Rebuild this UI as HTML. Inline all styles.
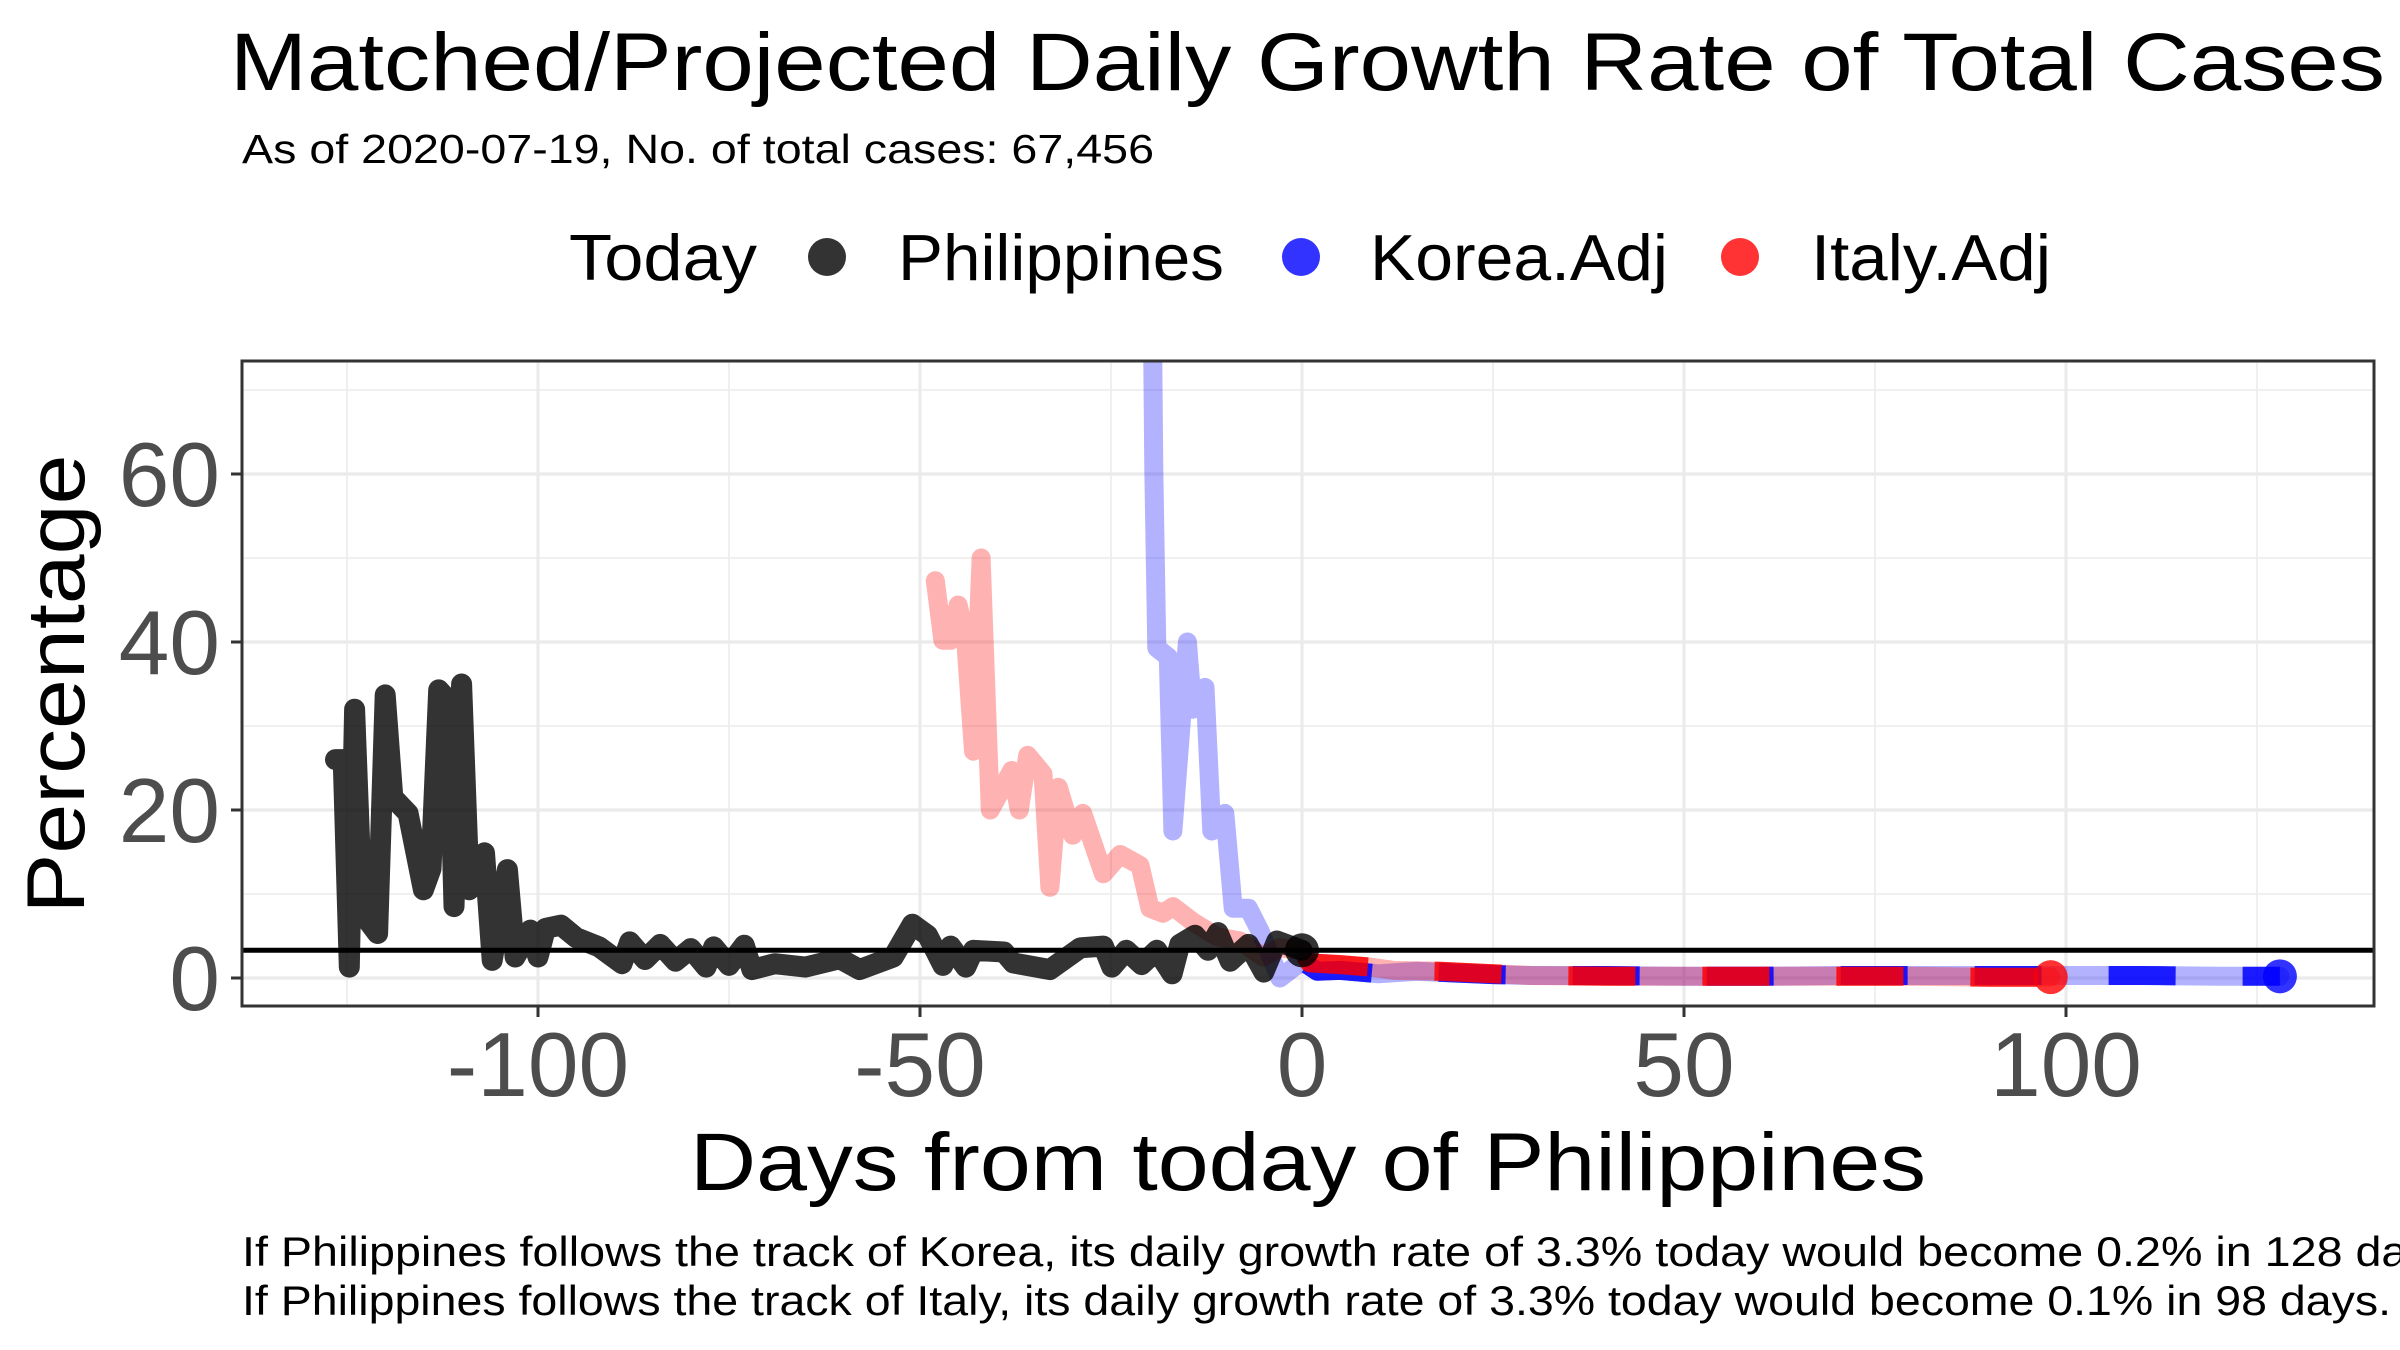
<!DOCTYPE html>
<html><head><meta charset="utf-8"><style>
html,body{margin:0;padding:0;background:#fff;overflow:hidden;}
svg{display:block;font-family:"Liberation Sans",Arial,sans-serif;}
</style></head><body>
<svg id="chart" width="2400" height="1350" viewBox="0 0 2400 1350">
<rect width="2400" height="1350" fill="#fff"/>
<text x="230" y="90" font-size="82" textLength="2155" lengthAdjust="spacingAndGlyphs" fill="#000">Matched/Projected Daily Growth Rate of Total Cases</text>
<text x="242" y="163" font-size="41" textLength="912" lengthAdjust="spacingAndGlyphs" fill="#000">As of 2020-07-19, No. of total cases: 67,456</text>
<g>
<text x="569" y="280" font-size="65" textLength="188" lengthAdjust="spacingAndGlyphs">Today</text>
<circle cx="827" cy="257" r="19" fill="#000" fill-opacity="0.8"/>
<text x="898" y="280" font-size="65" textLength="326" lengthAdjust="spacingAndGlyphs">Philippines</text>
<circle cx="1301" cy="257" r="19" fill="#0000ff" fill-opacity="0.8"/>
<text x="1370" y="280" font-size="65" textLength="298" lengthAdjust="spacingAndGlyphs">Korea.Adj</text>
<circle cx="1740" cy="257" r="19" fill="#ff0000" fill-opacity="0.8"/>
<text x="1811" y="280" font-size="65" textLength="240" lengthAdjust="spacingAndGlyphs">Italy.Adj</text>
</g>
<g id="grid"></g>
<g id="plot"></g>
<g id="axes"></g>
<text transform="translate(84,684) rotate(-90)" text-anchor="middle" font-size="82" textLength="459" lengthAdjust="spacingAndGlyphs">Percentage</text>
<text x="1308" y="1190" text-anchor="middle" font-size="82" textLength="1236" lengthAdjust="spacingAndGlyphs">Days from today of Philippines</text>
<text x="242" y="1266" font-size="42" textLength="2225" lengthAdjust="spacingAndGlyphs">If Philippines follows the track of Korea, its daily growth rate of 3.3% today would become 0.2% in 128 days.</text>
<text x="242" y="1315" font-size="42" textLength="2149" lengthAdjust="spacingAndGlyphs">If Philippines follows the track of Italy, its daily growth rate of 3.3% today would become 0.1% in 98 days.</text>
</svg>
<script>
const phDays=[-126.5,-125.5,-124.7,-124,-123,-121,-120,-119,-117,-115,-114,-113,-111.7,-111,-110,-109,-107,-106,-104,-103,-101,-100,-99,-97,-95,-92,-89,-88,-86,-84,-82,-80,-78,-77,-75,-73,-72,-69,-65,-60.5,-57.9,-53.5,-51,-49,-47,-46,-44,-43,-39,-37.8,-33,-29,-26,-24.9,-23,-21,-19,-17,-16,-14,-12.3,-11,-9.4,-7,-5,-3.3,0];
const phVals=[26,26,1.3,32,7.7,5.3,33.7,21.5,19.6,10.5,13,34.3,33,8.5,35,10.5,14.9,2.1,12.9,2.5,5.7,2.5,5.9,6.3,4.8,3.7,1.7,4.3,2.2,4,2,3.5,1.3,3.7,1.5,3.9,1,1.7,1.3,2.3,1,2.5,6.4,5.1,1.5,3.8,1.3,3.3,3.1,1.8,1,3.6,3.8,1.3,3.3,1.6,3.3,0.5,4,5.1,3.3,5.4,2,4,0.7,4.4,3.3];
const itDays=[-48,-47,-46,-45,-44,-43,-42,-40.8,-38,-37,-35.9,-33.9,-33,-31.9,-30,-28.7,-26,-23.8,-21.2,-19.9,-18.2,-16.9,-14.3,-11.1,-8.1,-5.1,-2.9,0];
const itVals=[47.3,40.2,40.2,44.4,40,27,50,20,24.7,20,26.5,24.3,10.8,22.7,17,19.6,12.4,14.7,13.4,8.3,7.7,8.5,6.7,4.9,4.4,2.5,3.6,3.3];
const itProjDays=[0,1,5,9,12,18,25,30,40,50,60,70,80,90,98];
const itProjVals=[3.3,1.8,1.6,1.3,0.9,0.8,0.5,0.3,0.2,0.2,0.2,0.2,0.2,0.1,0.1];
const krDays=[-19.6,-19.4,-19,-17.5,-16.9,-15,-14.3,-12.7,-11.8,-10.1,-9,-7,-5.5,-2.9,0];
const krVals=[80,60.5,39.3,38.2,17.5,40,32,34.6,17.5,19.6,8.3,8.3,5.6,0,2];
const krProjDays=[0,2,5,10,15,20,25,30,40,50,60,70,80,90,100,110,120,128];
const krProjVals=[2,0.8,0.9,0.5,0.8,0.6,0.4,0.3,0.3,0.2,0.2,0.3,0.3,0.3,0.3,0.3,0.2,0.2];
const todayRate=3.3;
const xTicks=[-100,-50,0,50,100];
const xMinor=[-125,-75,-25,25,75,125];
const yTicks=[0,20,40,60];
const yMinor=[10,30,50,70];

const P={l:242,r:2374,t:361,b:1006};
const X=d=>1302+d*7.64;
const Y=v=>978-v*8.4;
const NS='http://www.w3.org/2000/svg';
function mk(tag,attrs,parent){const e=document.createElementNS(NS,tag);for(const k in attrs)e.setAttribute(k,attrs[k]);parent.appendChild(e);return e;}
const grid=document.getElementById('grid'),plot=document.getElementById('plot'),axes=document.getElementById('axes');
xMinor.forEach(d=>{const l=mk('line',{x1:X(d),x2:X(d),y1:P.t,y2:P.b,stroke:'#ebebeb','stroke-width':1.6},grid);

});
yMinor.forEach(v=>{const l=mk('line',{x1:P.l,x2:P.r,y1:Y(v),y2:Y(v),stroke:'#ebebeb','stroke-width':1.6},grid);

});
xTicks.forEach(d=>{const l=mk('line',{x1:X(d),x2:X(d),y1:P.t,y2:P.b,stroke:'#ebebeb','stroke-width':3.2},grid);

});
yTicks.forEach(v=>{const l=mk('line',{x1:P.l,x2:P.r,y1:Y(v),y2:Y(v),stroke:'#ebebeb','stroke-width':3.2},grid);

});
const defs=mk('defs',{},plot);
const cp=mk('clipPath',{id:'clip'},defs);mk('rect',{x:P.l,y:P.t,width:P.r-P.l,height:P.b-P.t},cp);
const g=mk('g',{'clip-path':'url(#clip)'},plot);
function pathD(ds,vs){return ds.map((d,i)=>(i?'L':'M')+X(d).toFixed(1)+','+Y(vs[i]).toFixed(1)).join('');}
function line(ds,vs,attrs,name){const p=mk('path',Object.assign({d:pathD(ds,vs),fill:'none','stroke-linejoin':'round'},attrs),g);

return p;}
line(krDays.concat(krProjDays.slice(1)),krVals.concat(krProjVals.slice(1)),{stroke:'#0000ff','stroke-opacity':0.3,'stroke-width':19,'stroke-linecap':'round'},'korea-track-line');
line(itDays.concat(itProjDays.slice(1)),itVals.concat(itProjVals.slice(1)),{stroke:'#ff0000','stroke-opacity':0.3,'stroke-width':19,'stroke-linecap':'round'},'italy-track-line');
line(krProjDays,krProjVals,{stroke:'#0000ff','stroke-opacity':0.85,'stroke-width':19,'stroke-dasharray':'67 67','stroke-dashoffset':128},'korea-projection-line');
line(itProjDays,itProjVals,{stroke:'#ff0000','stroke-opacity':0.85,'stroke-width':19,'stroke-dasharray':'67 67','stroke-dashoffset':128},'italy-projection-line');
line(phDays,phVals,{stroke:'#000','stroke-opacity':0.8,'stroke-width':21,'stroke-linecap':'round'},'philippines-line');
const hl=mk('line',{x1:P.l,x2:P.r,y1:Y(todayRate),y2:Y(todayRate),stroke:'#000','stroke-width':5},g);


const c1=mk('circle',{cx:X(phDays[phDays.length-1]),cy:Y(phVals[phVals.length-1]),r:17,fill:'#000','fill-opacity':0.8},g);


const c2=mk('circle',{cx:X(itProjDays[itProjDays.length-1]),cy:Y(itProjVals[itProjVals.length-1]),r:17,fill:'#ff0000','fill-opacity':0.8},g);


const c3=mk('circle',{cx:X(krProjDays[krProjDays.length-1]),cy:Y(krProjVals[krProjVals.length-1]),r:17,fill:'#0000ff','fill-opacity':0.8},g);


const fr=mk('rect',{x:P.l,y:P.t,width:P.r-P.l,height:P.b-P.t,fill:'none',stroke:'#333','stroke-width':3},axes);


xTicks.forEach(d=>{const t=mk('line',{x1:X(d),x2:X(d),y1:P.b,y2:P.b+11,stroke:'#333','stroke-width':3},axes);


const tx=mk('text',{x:X(d),y:1096,'text-anchor':'middle','font-size':91,fill:'#4d4d4d'},axes);tx.textContent=String(d);

});
yTicks.forEach(v=>{const t=mk('line',{x1:P.l-11,x2:P.l,y1:Y(v),y2:Y(v),stroke:'#333','stroke-width':3},axes);


const tx=mk('text',{x:220,y:Y(v)+32,'text-anchor':'end','font-size':91,fill:'#4d4d4d'},axes);tx.textContent=v;

});
</script>
</body></html>
